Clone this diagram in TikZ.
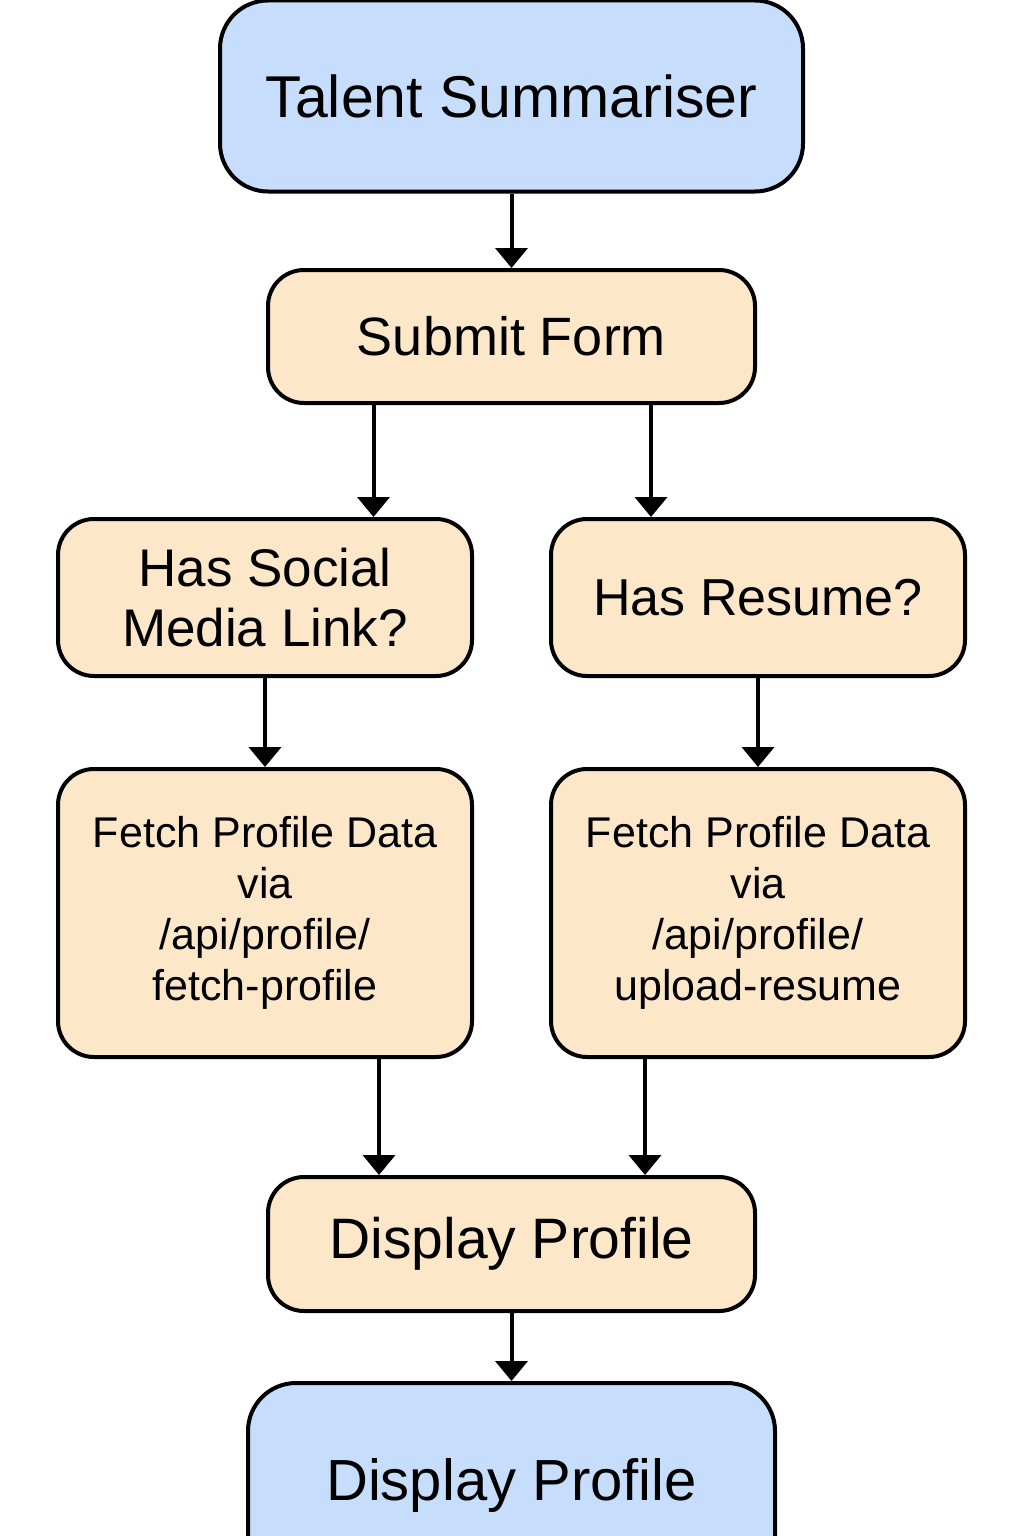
\documentclass[tikz,border=0pt]{standalone}
\usepackage{fontspec}
\setmainfont{Liberation Sans}
\usetikzlibrary{arrows.meta}
\definecolor{bluebox}{HTML}{C6DDFB}
\definecolor{peachbox}{HTML}{FDE7C9}
\tikzset{
  box/.style={draw=black, line width=4pt, rectangle, inner sep=0pt, align=center},
  bluestyle/.style={box, fill=bluebox, rounded corners=48pt},
  peachstyle/.style={box, fill=peachbox, rounded corners=36pt},
  arr/.style={draw=black, line width=4pt, -{Triangle[width=32pt,length=20pt]}},
}
\begin{document}
\begin{tikzpicture}[x=1pt,y=-1pt]
\useasboundingbox (0,0) rectangle (1024,1536);
\fill[white] (0,0) rectangle (1024,1536);
\node[bluestyle, minimum width=583pt, minimum height=191pt, font=\fontsize{59}{66}\selectfont] (ts) at (511.5,96) {Talent Summariser};
\node[peachstyle, minimum width=487pt, minimum height=133pt, font=\fontsize{54}{60}\selectfont] (sub) at (511.5,336.5) {Submit Form};
\node[peachstyle, minimum width=414pt, minimum height=157pt, font=\fontsize{53}{60}\selectfont] (soc) at (265,597.5) {Has Social\\Media Link?};
\node[peachstyle, minimum width=414pt, minimum height=157pt, font=\fontsize{52}{60}\selectfont] (res) at (758,597.5) {Has Resume?};
\node[peachstyle, minimum width=414pt, minimum height=288pt, font=\fontsize{43}{51}\selectfont] (fl) at (265,913) {Fetch Profile Data\\via\\/api/profile/\\fetch-profile};
\node[peachstyle, minimum width=414pt, minimum height=288pt, font=\fontsize{43}{51}\selectfont] (fr) at (758,913) {Fetch Profile Data\\via\\/api/profile/\\upload-resume};
\node[peachstyle, minimum width=487pt, minimum height=134pt, font=\fontsize{57}{64}\selectfont] (dp) at (511.5,1244) {Display Profile};
\node[bluestyle, minimum width=527pt, minimum height=204pt, font=\fontsize{58}{64}\selectfont] (dp2) at (511.5,1485) {Display Profile};
\draw[arr] (ts.south) -- (sub.north);
\draw[arr] ([xshift=-138pt]sub.south) -- ([xshift=-138pt]sub.south |- soc.north);
\draw[arr] ([xshift=139.5pt]sub.south) -- ([xshift=139.5pt]sub.south |- res.north);
\draw[arr] (soc.south) -- (fl.north);
\draw[arr] (res.south) -- (fr.north);
\draw[arr] ([xshift=114pt]fl.south) -- ([xshift=114pt]fl.south |- dp.north);
\draw[arr] ([xshift=-113pt]fr.south) -- ([xshift=-113pt]fr.south |- dp.north);
\draw[arr] (dp.south) -- (dp2.north);
\end{tikzpicture}
\end{document}
